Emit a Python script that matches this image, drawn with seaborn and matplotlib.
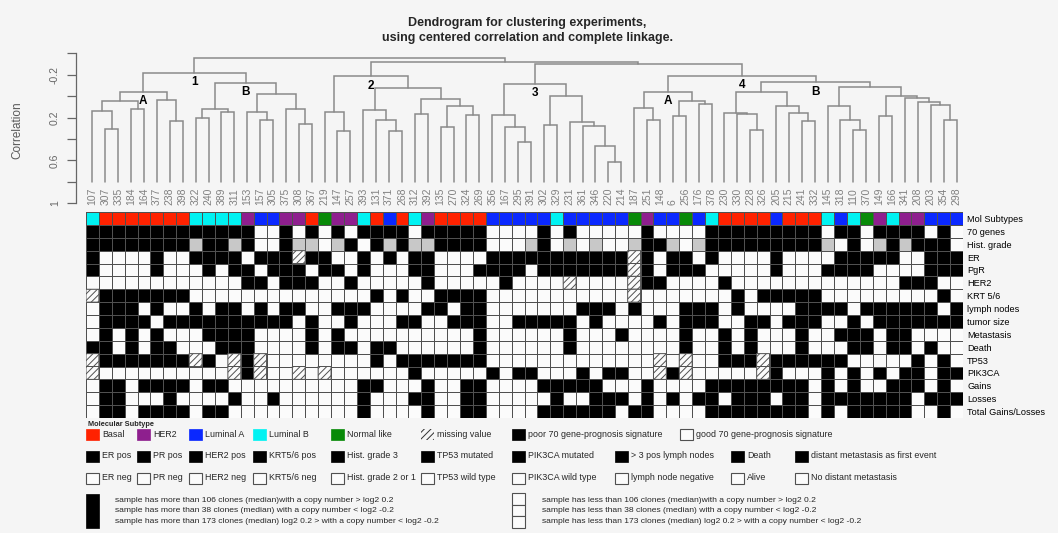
import numpy as np
import pandas as pd
import matplotlib
matplotlib.use("Agg")
import matplotlib.pyplot as plt
import seaborn as sns
from matplotlib.colors import ListedColormap
from matplotlib.patches import Rectangle

sns.set_theme(style="white")
plt.rcParams["font.family"] = ["Liberation Sans", "DejaVu Sans"]
plt.rcParams["hatch.linewidth"] = 0.7

# ---------------- data ----------------
samples = ["107", "307", "335", "184", "164", "377", "238", "398", "322", "240", "389", "311",
           "153", "157", "305", "375", "308", "367", "219", "147", "257", "393", "131", "371",
           "268", "312", "392", "135", "270", "324", "269", "356", "167", "295", "391", "302",
           "329", "231", "361", "346", "220", "214", "187", "251", "148", "6", "256", "176",
           "378", "230", "330", "228", "326", "205", "215", "241", "332", "145", "318", "110",
           "370", "149", "166", "341", "208", "203", "354", "298"]

# B = Basal, H = HER2, A = Luminal A, L = Luminal B, N = Normal like
mol_subtype_codes = "LBBBBBBBLLLLHAAHHBNHHLBABLHBBBBAAAAALAAAAANHAANALBBBBABBBLALNHLHHAAA"
subtype_letters = "BHALN"
subtype_names = ["Basal", "HER2", "Luminal A", "Luminal B", "Normal like"]
subtype_colors = ["#ff2200", "#8e1f8e", "#0a28ff", "#00f2f2", "#088a08"]

row_labels = ["Mol Subtypes", "70 genes", "Hist. grade", "ER", "PgR", "HER2", "KRT 5/6",
              "lymph nodes", "tumor size", "Metastasis", "Death", "TP53", "PIK3CA",
              "Gains", "Losses", "Total Gains/Losses"]

# 0 = negative (white), 1 = positive (black), 2 = grade 2 or 1 (grey), 3 = missing value
genes70 = "1111111111111" "001010101" "111011111" "000010100000" "10000111111111" "01101111010"
hist_grade = "11111111" "21121001220210" "121221111000210202002" "11202111111111" "20102121110"
er = "1000010011110111311001" "010110000111111111113" "10110100001000" "01111100111"
pgr = "1000010001011011101101" "000110001111011111113" "10111000001000" "11110000111"
her2 = "0000000000001101110010" "000010000010000300003" "11000010000000" "00000011100"
krt56 = "3111111100000000000000" "101001111000000000003" "00000001011111" "00000000010"
lymph = "0111010010110101100111" "000011011000000011101" "00011101000011" "11011111101"
tumor = "0111101111111111010010" "001100111001111101000" "01011100110111" "00101111111"
metastasis = "0101010001111000010100" "000000001000000100010" "00010010100010" "01110110000"
death = "1101011000111000010110" "110000001000000100000" "00010010100010" "00110110100"
tp53 = "3111111131031300000000" "101111111000000000000" "03030011131111" "11000001010"
pik3ca = "3000000000031300303000" "000100000101100010110" "03130000031000" "10101011011"
gains = "0110111101100000000001" "100010011000011111000" "10000111111110" "10100111010"
losses = "0110001000010010000001" "000110011000001001110" "10101101110110" "11111110111"
total_gl = "0110111101100000000001" "000010011000011111101" "10000111111110" "10111110010"

# dendrogram merges: (left, right, correlation height); str = leaf, int = earlier merge
merges = [
    ("307", "335", 0.303), ("107", 0, 0.141), ("184", "164", 0.116), (1, 2, 0.047),
    ("238", "398", 0.228), ("377", 4, 0.038), (3, 5, -0.040),
    ("322", "240", 0.207), ("389", "311", 0.147), (7, 8, 0.116),
    ("157", "305", 0.219), ("153", 10, 0.147), ("308", "367", 0.259), ("375", 12, 0.119),
    (11, 13, -0.022), (9, 14, -0.125), (6, 15, -0.219),
    ("147", "257", 0.322), ("219", 17, 0.144), ("371", "268", 0.322), ("131", 19, 0.219),
    ("393", 20, 0.132), ("312", "392", 0.166), ("135", "270", 0.288), ("324", "269", 0.172),
    (23, 24, 0.094), (22, 25, 0.025), (21, 26, -0.072), (18, 27, -0.187),
    ("295", "391", 0.428), ("167", 29, 0.288), ("356", 30, 0.172), ("302", "329", 0.266),
    ("220", "214", 0.610), ("346", 33, 0.463), ("361", 34, 0.275), ("231", 35, 0.238),
    (32, 36, 0.000), (31, 37, -0.116),
    ("251", "148", 0.225), ("187", 39, 0.109), ("6", "256", 0.188), ("176", "378", 0.071),
    (41, 42, 0.047), (40, 43, -0.040),
    ("228", "326", 0.316), ("330", 45, 0.163), ("230", 46, 0.156), ("241", "332", 0.231),
    ("215", 48, 0.156), ("205", 49, 0.094), (47, 50, -0.040),
    ("110", "370", 0.316), ("318", 52, 0.219), ("145", 53, 0.094), ("149", "166", 0.188),
    ("354", "298", 0.225), ("203", 56, 0.085), ("208", 57, 0.057), ("341", 58, 0.016),
    (55, 59, 0.000), (54, 60, -0.082), (51, 61, -0.131), (44, 62, -0.190),
    (38, 63, -0.297), (28, 64, -0.318), (16, 65, -0.359),
]
cluster_tags = {16: "1", 6: "A", 15: "B", 28: "2", 38: "3", 63: "4", 44: "A", 62: "B"}
leaf_bottom = 0.8
corr_ticks = [-0.4, -0.2, 0.0, 0.2, 0.4, 0.6, 0.8, 1.0]
corr_ticklabels = ["", "-0.2", "", "0.2", "", "0.6", "", "1"]

# ---------------- figure ----------------
W, H = 1058, 533
bg = "#f5f5f5"
cell_white = "#fbfbfb"
grade_grey = "#c8c8c8"
edge = "#505050"
dendro_col = "#8a8a8a"

fig = plt.figure(figsize=(W / 100, H / 100), dpi=100)
fig.patch.set_facecolor(bg)


def rect(x, y, w, h):
    return [x / W, 1 - (y + h) / H, w / W, h / H]


# overlay in pixel coordinates (title, axis title, legend)
lax = fig.add_axes([0, 0, 1, 1])
lax.set_xlim(0, W)
lax.set_ylim(H, 0)
lax.axis("off")
lax.patch.set_alpha(0)

lax.text(527, 23, "Dendrogram for clustering experiments,", ha="center", va="center",
         fontsize=9, fontweight="bold")
lax.text(527, 38.5, "using centered correlation and complete linkage.", ha="center",
         va="center", fontsize=9, fontweight="bold")
lax.text(17, 130, "Correlation", rotation=90, ha="center", va="center", fontsize=8.5,
         color="#5a5a5a")

# ---------------- dendrogram ----------------
dax = fig.add_axes(rect(86, 53.3, 877, 150))
dax.patch.set_alpha(0)
dax.set_xlim(-0.5, len(samples) - 0.5)
dax.set_ylim(1.0, -0.4)

leaf_pos = {s: (i, leaf_bottom) for i, s in enumerate(samples)}
nodes = []


def node(ref):
    return leaf_pos[ref] if isinstance(ref, str) else nodes[ref]


for a, b, h in merges:
    xa, ya = node(a)
    xb, yb = node(b)
    dax.plot([xa, xa, xb, xb], [ya, h, h, yb], color=dendro_col, lw=1.1,
             solid_joinstyle="miter")
    nodes.append(((xa + xb) / 2, h))

for k, tag in cluster_tags.items():
    x, h = nodes[k]
    dax.annotate(tag, (x, h), xytext=(0, -2.5), textcoords="offset points", ha="center",
                 va="top", fontsize=8.5, fontweight="bold", color="black")

for i, s in enumerate(samples):
    dax.annotate(s, (i, 1.0), xytext=(0, -1.5), textcoords="offset points", rotation=90,
                 ha="center", va="bottom", fontsize=7.5, color="#808080",
                 annotation_clip=False)

for sp in ["top", "right", "bottom"]:
    dax.spines[sp].set_visible(False)
dax.spines["left"].set_position(("outward", 7.2))
dax.spines["left"].set_bounds(-0.4, 1.0)
dax.spines["left"].set_color("#666666")
dax.spines["left"].set_linewidth(0.9)
dax.set_xticks([])
dax.set_yticks(corr_ticks)
dax.set_yticklabels(corr_ticklabels)
dax.tick_params(axis="y", left=True, length=6.7, width=0.9, color="#666666",
                labelsize=7.5, labelcolor="#666666", pad=5)
for t in dax.get_yticklabels():
    t.set_rotation(90)
    t.set_va("center")

# ---------------- heatmap ----------------
binary_rows = [genes70, hist_grade, er, pgr, her2, krt56, lymph, tumor, metastasis, death,
               tp53, pik3ca, gains, losses, total_gl]
mol_vals = [5 + subtype_letters.index(c) for c in mol_subtype_codes]
mat = np.array([mol_vals] + [[int(c) for c in r] for r in binary_rows])
df = pd.DataFrame(mat, index=row_labels, columns=samples)

cmap = ListedColormap([cell_white, "black", grade_grey, cell_white, cell_white] + subtype_colors)
hax = fig.add_axes(rect(86, 212, 877, 206))
sns.heatmap(df, ax=hax, cmap=cmap, vmin=-0.5, vmax=9.5, cbar=False, linewidths=0.7,
            linecolor=edge, xticklabels=False, yticklabels=True)

missing = np.ma.masked_where(mat != 3, mat)
hax.pcolor(np.arange(mat.shape[1] + 1), np.arange(mat.shape[0] + 1), missing,
           cmap=ListedColormap([cell_white]), hatch="/////", edgecolors=edge, linewidth=0.7)
hax.set_xlim(0, mat.shape[1])
hax.set_ylim(mat.shape[0], 0)
hax.yaxis.tick_right()
hax.tick_params(axis="y", length=0, labelsize=6.6, pad=3, labelcolor="black")
for t in hax.get_yticklabels():
    t.set_rotation(0)
    t.set_ha("left")
hax.set_xlabel("")
hax.set_ylabel("")

# ---------------- legend ----------------
sw_w, sw_h = 13, 11
lax.text(88, 424, "Molecular Subtype", fontsize=5.3, fontweight="bold", va="center")

legend_row1 = list(zip(subtype_names, subtype_colors)) + [
    ("missing value", "hatch"),
    ("poor 70 gene-prognosis signature", "black"),
    ("good 70 gene-prognosis signature", "white")]
legend_row1_x = [86, 137, 189, 253, 331, 421, 512, 680]
legend_row2 = ["ER pos", "PR pos", "HER2 pos", "KRT5/6 pos", "Hist. grade 3", "TP53 mutated",
               "PIK3CA mutated", "> 3 pos lymph nodes", "Death",
               "distant metastasis as first event"]
legend_row3 = ["ER neg", "PR neg", "HER2 neg", "KRT5/6 neg", "Hist. grade 2 or 1",
               "TP53 wild type", "PIK3CA wild type", "lymph node negative", "Alive",
               "No distant metastasis"]
legend_row23_x = [86, 137, 189, 253, 331, 421, 512, 615, 731, 795]


def swatch(x, y, kind):
    if kind == "hatch":
        lax.add_patch(Rectangle((x, y), sw_w, sw_h, facecolor=bg, edgecolor="#303030",
                                hatch="/////", lw=0))
    elif kind == "white":
        lax.add_patch(Rectangle((x, y), sw_w, sw_h, facecolor=cell_white, edgecolor=edge,
                                lw=0.8))
    else:
        lax.add_patch(Rectangle((x, y), sw_w, sw_h, facecolor=kind, edgecolor=kind, lw=0.5))


for (lab, kind), x in zip(legend_row1, legend_row1_x):
    swatch(x, 429, kind)
    lax.text(x + 16, 434.5, lab, fontsize=6.4, va="center")
for lab, x in zip(legend_row2, legend_row23_x):
    swatch(x, 450.5, "black")
    lax.text(x + 16, 456, lab, fontsize=6.4, va="center")
for lab, x in zip(legend_row3, legend_row23_x):
    swatch(x, 472.5, "white")
    lax.text(x + 16, 478, lab, fontsize=6.4, va="center")

more_lines = ["sample has more than 106 clones (median)with a copy number > log2 0.2",
              "sample has more than 38 clones (median) with a copy number < log2 -0.2",
              "sample has more than 173 clones (median) log2 0.2 > with a copy number < log2 -0.2"]
less_lines = [l.replace("more than", "less than") for l in more_lines]
line_y = [500, 510.8, 521.6]

lax.add_patch(Rectangle((86, 494), 13, 34, facecolor="black", edgecolor="black", lw=0.5))
for txt, y in zip(more_lines, line_y):
    lax.text(115, y, txt, fontsize=6.1, va="center")
for k, (txt, y) in enumerate(zip(less_lines, line_y)):
    lax.add_patch(Rectangle((512, 493 + k * 11.7), 13, 11.7, facecolor=cell_white,
                            edgecolor=edge, lw=0.8))
    lax.text(541.5, y, txt, fontsize=6.1, va="center")

fig.savefig("out.png", dpi=100, facecolor=bg)
